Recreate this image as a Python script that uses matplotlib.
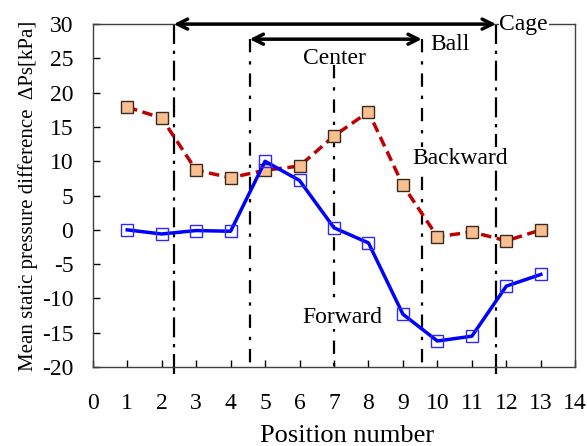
import matplotlib
matplotlib.use("Agg")
import matplotlib.pyplot as plt

positions = [1, 2, 3, 4, 5, 6, 7, 8, 9, 10, 11, 12, 13]
backward = [17.9, 16.3, 8.7, 7.6, 8.7, 9.3, 13.7, 17.2, 6.5, -1.0, -0.3, -1.6, 0.0]
forward = [0.0, -0.6, -0.1, -0.2, 10.0, 7.2, 0.3, -1.9, -12.3, -16.2, -15.5, -8.2, -6.5]
cage_x = [2.35, 11.7]
ball_x = [4.55, 9.55]
center_x = 7.0

plt.rcParams['font.family'] = ['Liberation Serif', 'DejaVu Serif']
plt.rcParams['axes.unicode_minus'] = False

fig = plt.figure(figsize=(5.87, 4.46), dpi=100)
ax = fig.add_axes([0.158, 0.177, 0.822, 0.769])

ax.set_xlim(0, 14)
ax.set_ylim(-20, 30)

# vertical reference lines
for x in cage_x:
    ax.plot([x, x], [30, -21], color='black', lw=1.6, ls=(0, (9, 3, 1.5, 3)), clip_on=False)
for x in ball_x:
    ax.plot([x, x], [27.8, -19.6], color='black', lw=1.6, ls=(0, (6, 4, 1.5, 4)))
ax.plot([center_x, center_x], [24.0, -20], color='black', lw=1.6, ls=(0, (6, 4, 1.5, 4)))

# data
ax.plot(positions, backward, color='#C00000', lw=2.5, ls=(0, (3, 1.6)),
        marker='s', ms=9, mfc='#F9BF8F', mec='#3A2A20', mew=1.0, zorder=3)
ax.plot(positions, forward, color='#0000FF', lw=2.5,
        marker='s', ms=9, mfc='none', mec='#2A2AFF', mew=1.0, zorder=4)

# arrows
ax.annotate('', xy=(cage_x[0], 30), xytext=(cage_x[1], 30),
            arrowprops=dict(arrowstyle='<->', color='black', lw=2.5,
                            mutation_scale=18, shrinkA=0, shrinkB=0),
            annotation_clip=False)
ax.annotate('', xy=(ball_x[0], 27.8), xytext=(ball_x[1], 27.8),
            arrowprops=dict(arrowstyle='<->', color='black', lw=2.5,
                            mutation_scale=18, shrinkA=0, shrinkB=0))

fs = 17
wb = dict(facecolor='white', edgecolor='none', pad=0.5)
ax.text(11.8, 30, 'Cage', fontsize=fs, va='center', ha='left', bbox=wb)
ax.text(9.8, 27.0, 'Ball', fontsize=fs, va='center', ha='left')
ax.text(7.0, 25.0, 'Center', fontsize=fs, va='center', ha='center')
ax.text(9.27, 10.4, 'Backward', fontsize=fs, va='center', ha='left', bbox=wb, zorder=2.5)
ax.text(6.08, -12.8, 'Forward', fontsize=fs, va='center', ha='left', bbox=wb, zorder=2.5)

ax.set_xticks(range(0, 15))
ax.set_yticks(range(-20, 31, 5))
ax.tick_params(direction='in', length=5, width=1, labelsize=fs, top=False, right=False)
ax.tick_params(axis='x', pad=19)
ax.tick_params(axis='y', pad=14)
for s in ax.spines.values():
    s.set_linewidth(1.0)
    s.set_color('#404040')

ax.set_xlabel('Position number', fontsize=19)
ax.xaxis.set_label_coords(0.527, -0.168)
ax.set_ylabel('Mean static pressure difference  ΔPs[kPa]', fontsize=15, labelpad=3)

fig.savefig('out.png', dpi=100)
